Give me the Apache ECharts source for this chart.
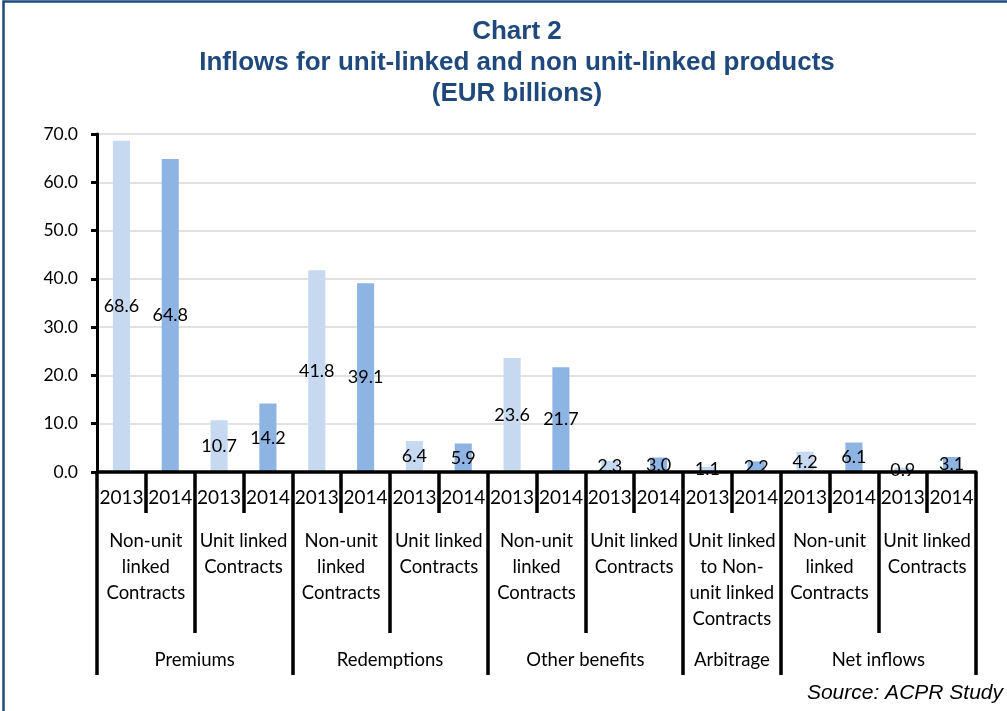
<!DOCTYPE html>
<html>
<head>
<meta charset="utf-8">
<style>
  html, body { margin: 0; padding: 0; background: #ffffff; }
  #chart { width: 1007px; height: 711px; }
</style>
<script src="https://cdn.jsdelivr.net/npm/echarts@6/dist/echarts.min.js"></script>
</head>
<body>
<div id="chart"></div>
<script>
// Flow types (outer level of the category axis)
const flowGroups = ['Premiums', 'Redemptions', 'Other benefits', 'Arbitrage', 'Net inflows'];

// Contract types (middle level) and the flow group each belongs to
const contractTypes = [
  'Non-unit\nlinked\nContracts', 'Unit linked\nContracts',
  'Non-unit\nlinked\nContracts', 'Unit linked\nContracts',
  'Non-unit\nlinked\nContracts', 'Unit linked\nContracts',
  'Unit linked\nto Non-\nunit linked\nContracts',
  'Non-unit\nlinked\nContracts', 'Unit linked\nContracts'
];
const contractGroup = [0, 0, 1, 1, 2, 2, 3, 4, 4];

// Years (inner level), one per bar
const years = ['2013', '2014', '2013', '2014', '2013', '2014', '2013', '2014', '2013',
               '2014', '2013', '2014', '2013', '2014', '2013', '2014', '2013', '2014'];

// Inflows, EUR billions
const values = [68.6, 64.8, 10.7, 14.2, 41.8, 39.1, 6.4, 5.9, 23.6, 21.7,
                2.3, 3.0, 1.1, 2.2, 4.2, 6.1, 0.9, 3.1];

// Y axis ticks
const yTicks = [0, 10, 20, 30, 40, 50, 60, 70];

const yearColors = { '2013': '#c6d9f1', '2014': '#8db4e2' };
const black = '#000000';
const labelFont = 'Lato, "Noto Sans", sans-serif';

// Outer axis: points on the bar boundaries (boundaryGap false), one per boundary.
// Group labels sit at the middle boundary of each group, ticks at group edges.
const barsPerContract = years.length / contractTypes.length;
const groupEdges = [0];
const groupPoints = new Array(years.length + 1).fill('');
flowGroups.forEach((g, gi) => {
  const nContracts = contractGroup.filter(c => c === gi).length;
  const start = groupEdges[groupEdges.length - 1];
  const end = start + nContracts * barsPerContract;
  groupPoints[(start + end) / 2] = g;
  groupEdges.push(end);
});

const chart = echarts.init(document.getElementById('chart'));
chart.setOption({
  animation: false,
  backgroundColor: '#ffffff',
  title: {
    text: 'Chart 2\nInflows for unit-linked and non unit-linked products\n(EUR billions)',
    left: 512,
    top: 11,
    textAlign: 'center',
    textStyle: {
      fontFamily: '"Liberation Sans", Arial, sans-serif',
      fontWeight: 'bold',
      fontSize: 26,
      lineHeight: 31,
      color: '#1f497d'
    }
  },
  graphic: [
    {
      type: 'rect',
      shape: { x: 3.5, y: 1.5, width: 1020, height: 730 },
      style: { fill: 'none', stroke: '#1f497d', lineWidth: 2.5 },
      silent: true
    },
    {
      type: 'text',
      right: 4,
      top: 683,
      style: {
        text: 'Source: ACPR Study',
        fontFamily: '"Liberation Sans", Arial, sans-serif',
        fontStyle: 'italic',
        fontSize: 21,
        fill: '#000000'
      }
    }
  ],
  grid: { left: 97, right: 31, top: 134, bottom: 239, containLabel: false },
  yAxis: {
    type: 'value',
    min: 0,
    max: yTicks[yTicks.length - 1],
    interval: yTicks[1] - yTicks[0],
    axisLine: { show: true, lineStyle: { color: black, width: 3 } },
    axisTick: { show: true, inside: false, length: 6, lineStyle: { color: black, width: 3 } },
    axisLabel: {
      margin: 19,
      color: black,
      fontFamily: labelFont,
      fontSize: 17.5,
      formatter: v => v.toFixed(1)
    },
    splitLine: { show: true, lineStyle: { color: '#d9d9d9', width: 1.5 } }
  },
  xAxis: [
    {
      type: 'category',
      data: years,
      position: 'bottom',
      offset: 0,
      z: 10,
      axisLine: { show: true, onZero: false, lineStyle: { color: black, width: 3.5 } },
      axisTick: { show: true, interval: 0, length: 41, lineStyle: { color: black, width: 3.5 } },
      axisLabel: { interval: 0, margin: 16, color: black, fontFamily: labelFont, fontSize: 19 }
    },
    {
      type: 'category',
      data: contractTypes,
      position: 'bottom',
      offset: 0,
      z: 10,
      axisLine: { show: false },
      axisTick: { show: true, interval: 0, length: 161, lineStyle: { color: black, width: 3.5 } },
      axisLabel: {
        interval: 0, margin: 56, color: black, fontFamily: labelFont,
        fontSize: 18.5, lineHeight: 26
      }
    },
    {
      type: 'category',
      data: groupPoints,
      boundaryGap: false,
      position: 'bottom',
      offset: 0,
      z: 10,
      axisLine: { show: false },
      axisTick: {
        show: true,
        length: 203,
        interval: idx => groupEdges.indexOf(idx) !== -1,
        lineStyle: { color: black, width: 3.5 }
      },
      axisLabel: { interval: 0, margin: 179, color: black, fontFamily: labelFont, fontSize: 18.5 }
    }
  ],
  series: [
    {
      type: 'bar',
      xAxisIndex: 0,
      barWidth: '35%',
      z: 2,
      data: values.map((v, i) => ({ value: v, itemStyle: { color: yearColors[years[i]] } })),
      label: {
        show: true,
        position: 'inside',
        color: black,
        fontFamily: labelFont,
        fontSize: 18,
        formatter: p => p.value.toFixed(1)
      }
    }
  ]
});
</script>
</body>
</html>
